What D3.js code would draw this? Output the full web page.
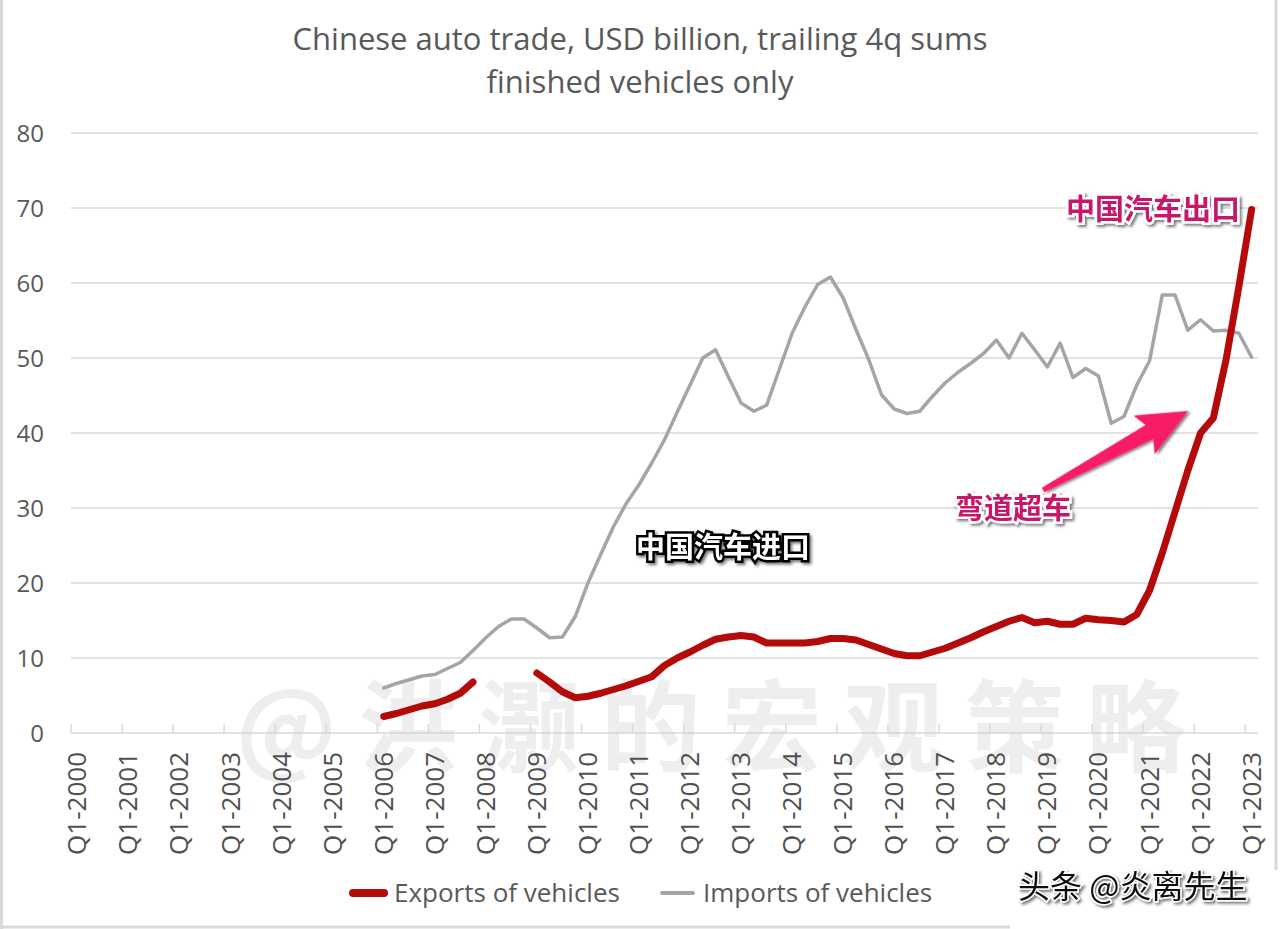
<!DOCTYPE html>
<html lang="en">

<head>
    <meta charset="UTF-8">
    <title>Chinese auto trade</title>
    <script src="https://d3js.org/d3.v7.min.js"></script>
    <style>
        body { margin: 0; background: #fff; }
        svg text { font-family: "Open Sans", "Noto Sans", sans-serif; }
        .cjk { font-family: "Noto Sans CJK SC", sans-serif !important; font-weight: 700; }
    </style>
</head>

<body>
    <div id="chart"></div>

    <script type="text/javascript">

        // category axis: one label per quarter, Q1-2000 .. Q1-2023
        let years = d3.range(2000, 2024)
        let quarters = []
        years.forEach((y) => {
            for (let q = 1; q <= 4; q++) {
                if (y == 2023 && q > 1) break;
                quarters.push("Q" + q + "-" + y)
            }
        })
        let firstQuarter = "Q1-2006"

        // USD billion, trailing 4q sums, from Q1-2006 onward
        let exportsVals = [
            2.2, 2.6, 3.1, 3.6, 3.9, 4.5, 5.3, 6.8,
            null, null, null, null,
            8.0, 6.8, 5.5, 4.7, 4.9, 5.3, 5.8, 6.3,
            6.9, 7.5, 9.0, 10.0, 10.8, 11.7, 12.5, 12.8,
            13.0, 12.8, 12.0, 12.0, 12.0, 12.0, 12.2, 12.6,
            12.6, 12.4, 11.8, 11.2, 10.6, 10.3, 10.3, 10.8,
            11.3, 12.0, 12.7, 13.5, 14.2, 14.9, 15.4, 14.7,
            14.9, 14.5, 14.5, 15.3, 15.1, 15.0, 14.8, 15.8,
            19.0, 24.0, 29.5, 35.0, 40.0, 42.0, 49.8, 59.5,
            69.8
        ]
        let importsVals = [
            6.0, 6.6, 7.1, 7.6, 7.8, 8.6, 9.4, 11.0,
            12.7, 14.2, 15.2, 15.2, 14.0, 12.7, 12.8, 15.5,
            20.0, 23.8, 27.5, 30.6, 33.1, 36.0, 39.1, 42.8,
            46.4, 50.0, 51.1, 47.5, 44.0, 42.9, 43.7, 48.5,
            53.3, 56.8, 59.8, 60.8, 58.0, 53.8, 49.8, 45.1,
            43.2, 42.6, 42.9, 44.9, 46.7, 48.1, 49.3, 50.6,
            52.4, 50.0, 53.3, 51.1, 48.8, 52.0, 47.4, 48.6,
            47.6, 41.3, 42.2, 46.4, 49.6, 58.4, 58.4, 53.7,
            55.1, 53.6, 53.7, 53.3, 50.1
        ]
        let yTicks = [0, 10, 20, 30, 40, 50, 60, 70, 80]

        let W = 1280, H = 929
        let svg = d3.select("#chart").append("svg")
            .attr("width", W).attr("height", H)

        let defs = svg.append("defs")
        let f = defs.append("filter").attr("id", "shadow")
            .attr("x", "-20%").attr("y", "-40%").attr("width", "140%").attr("height", "180%")
        f.append("feDropShadow").attr("dx", 2).attr("dy", 2).attr("stdDeviation", 1.6)
            .attr("flood-color", "#000").attr("flood-opacity", 0.55)

        // frame
        svg.append("line").attr("x1", 1.5).attr("x2", 1.5).attr("y1", 0).attr("y2", H)
            .attr("stroke", "#d9d9d9").attr("stroke-width", 3)
        svg.append("line").attr("x1", 1276).attr("x2", 1276).attr("y1", 0).attr("y2", 870)
            .attr("stroke", "#d9d9d9").attr("stroke-width", 3)
        svg.append("line").attr("x1", 0).attr("x2", 1010).attr("y1", 927).attr("y2", 927)
            .attr("stroke", "#d9d9d9").attr("stroke-width", 3)

        let x = d3.scaleBand().domain(quarters).range([71, 1258]).padding(0)
        let y = d3.scaleLinear().domain([0, 80]).range([733, 133])
        let cx = (q) => x(q) + x.bandwidth() / 2

        // title
        svg.append("text").attr("x", 640).attr("y", 50).attr("text-anchor", "middle")
            .style("font-size", "31px").attr("fill", "#595959")
            .text("Chinese auto trade, USD billion, trailing 4q sums")
        svg.append("text").attr("x", 640).attr("y", 93).attr("text-anchor", "middle")
            .style("font-size", "31px").attr("fill", "#595959")
            .text("finished vehicles only")

        // gridlines + y labels
        svg.append("g").selectAll("line").data(yTicks).enter().append("line")
            .attr("x1", 71).attr("x2", 1258)
            .attr("y1", (d) => y(d)).attr("y2", (d) => y(d))
            .attr("stroke", "#d9d9d9").attr("stroke-width", 1.5)
        svg.append("g").selectAll("text").data(yTicks).enter().append("text")
            .attr("x", 44).attr("y", (d) => y(d) + 8.5).attr("text-anchor", "end")
            .style("font-size", "24px").attr("fill", "#595959")
            .text((d) => d)

        // watermark
        svg.append("text").attr("class", "cjk")
            .attr("x", 236).attr("y", 764)
            .attr("textLength", 950).attr("lengthAdjust", "spacing")
            .style("font-size", "100px").attr("fill", "#c8c8c8").attr("opacity", 0.3)
            .text("@洪灏的宏观策略")

        // x axis
        let q1s = quarters.filter((q) => q.startsWith("Q1"))
        svg.append("g").selectAll("line").data(q1s).enter().append("line")
            .attr("x1", (d) => x(d)).attr("x2", (d) => x(d))
            .attr("y1", 724).attr("y2", 733)
            .attr("stroke", "#d9d9d9").attr("stroke-width", 1.5)
        svg.append("g").selectAll("text").data(q1s).enter().append("text")
            .attr("transform", (d) => "translate(" + (cx(d) + 9) + ",752) rotate(-90)")
            .attr("text-anchor", "end")
            .style("font-size", "26px").attr("fill", "#505050")
            .text((d) => d)

        // series
        let start = quarters.indexOf(firstQuarter)
        let toPts = (arr) => arr.map((v, i) => ({ q: quarters[start + i], v: v }))
        let line = d3.line().defined((d) => d.v != null)
            .x((d) => cx(d.q)).y((d) => y(d.v))

        svg.append("path").datum(toPts(importsVals)).attr("d", line)
            .attr("fill", "none").attr("stroke", "#a5a5a5").attr("stroke-width", 3.5)
            .attr("stroke-linejoin", "round").attr("stroke-linecap", "round")
        svg.append("path").datum(toPts(exportsVals)).attr("d", line)
            .attr("fill", "none").attr("stroke", "#b50a0a").attr("stroke-width", 7)
            .attr("stroke-linejoin", "round").attr("stroke-linecap", "round")

        // annotations
        let pink = "#c8186a"
        svg.append("text").attr("class", "cjk").attr("x", 1153).attr("y", 220)
            .attr("text-anchor", "middle").style("font-size", "29px")
            .attr("fill", pink).attr("stroke", "#fff").attr("stroke-width", 5)
            .attr("paint-order", "stroke").attr("filter", "url(#shadow)")
            .text("中国汽车出口")
        svg.append("text").attr("class", "cjk").attr("x", 1013).attr("y", 519)
            .attr("text-anchor", "middle").style("font-size", "29px")
            .attr("fill", pink).attr("stroke", "#fff").attr("stroke-width", 5)
            .attr("paint-order", "stroke").attr("filter", "url(#shadow)")
            .text("弯道超车")
        svg.append("text").attr("class", "cjk").attr("x", 723).attr("y", 558)
            .attr("text-anchor", "middle").style("font-size", "29px")
            .attr("fill", "#fff").attr("stroke", "#000").attr("stroke-width", 5)
            .attr("paint-order", "stroke").attr("filter", "url(#shadow)")
            .text("中国汽车进口")

        // arrow towards the crossing
        let tail = [1043, 490], tip = [1188, 411]
        let ang = Math.atan2(tip[1] - tail[1], tip[0] - tail[0])
        let len = Math.hypot(tip[0] - tail[0], tip[1] - tail[1])
        let arrow = svg.append("g")
            .attr("transform", "translate(" + tail[0] + "," + tail[1] + ") rotate(" + (ang * 180 / Math.PI) + ")")
            .attr("filter", "url(#shadow)")
        arrow.append("path")
            .attr("d", d3.line()([[0, -2.5], [len - 44, -8], [len - 50, -22], [len, 0], [len - 50, 22], [len - 44, 8], [0, 2.5]]) + "Z")
            .attr("fill", "#f71e64")

        // legend
        svg.append("line").attr("x1", 353).attr("x2", 384).attr("y1", 893).attr("y2", 893)
            .attr("stroke", "#b50a0a").attr("stroke-width", 8).attr("stroke-linecap", "round")
        svg.append("text").attr("x", 394).attr("y", 902)
            .style("font-size", "26px").attr("fill", "#595959").text("Exports of vehicles")
        svg.append("line").attr("x1", 662).attr("x2", 693).attr("y1", 893).attr("y2", 893)
            .attr("stroke", "#a5a5a5").attr("stroke-width", 4).attr("stroke-linecap", "round")
        svg.append("text").attr("x", 703).attr("y", 902)
            .style("font-size", "26px").attr("fill", "#595959").text("Imports of vehicles")

        // source tag
        svg.append("text").attr("class", "cjk").attr("x", 1018).attr("y", 898)
            .style("font-size", "32px").style("font-weight", 400)
            .attr("fill", "#111").attr("stroke", "#fff").attr("stroke-width", 3)
            .attr("paint-order", "stroke").attr("filter", "url(#shadow)")
            .text("头条 @炎离先生")
    </script>
</body>

</html>
